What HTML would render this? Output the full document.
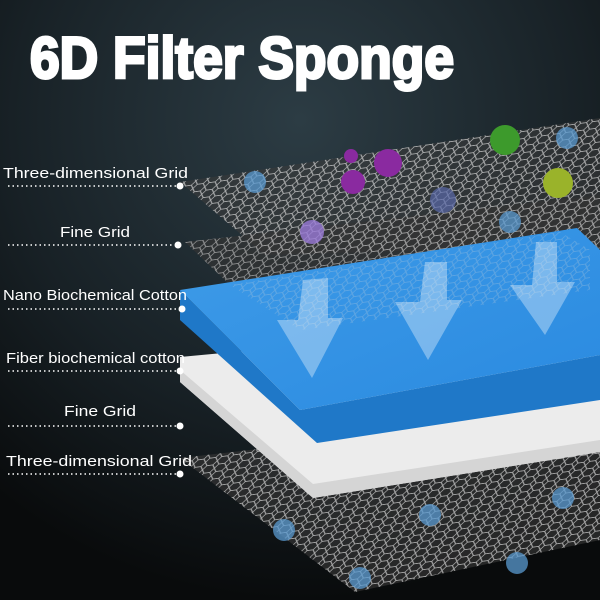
<!DOCTYPE html>
<html><head><meta charset="utf-8"><style>
body{margin:0;width:600px;height:600px;overflow:hidden;background:#111;}
svg{display:block}
</style></head><body>
<svg width="600" height="600" viewBox="0 0 600 600" xmlns="http://www.w3.org/2000/svg">
<defs>
<radialGradient id="bg" cx="0.5" cy="0.2" r="0.8">
<stop offset="0" stop-color="#2c3c44"/><stop offset="0.6" stop-color="#182126"/><stop offset="1" stop-color="#090b0c"/>
</radialGradient>
<pattern id="hex" width="12" height="7" patternUnits="userSpaceOnUse" patternTransform="rotate(-8) skewX(-30)">
<path d="M0 3.5 L3 0 L9 0 L12 3.5 L9 7 L3 7 Z" fill="none" stroke="#d8d8d8" stroke-width="0.9" opacity="0.75"/>
</pattern>
<linearGradient id="blue" x1="0" y1="0" x2="1" y2="1">
<stop offset="0" stop-color="#3e9be8"/><stop offset="1" stop-color="#2a8ae0"/>
</linearGradient>
</defs>
<rect width="600" height="600" fill="url(#bg)"/>
<polygon points="180,182 600,118 600,245 265,255" fill="#3a3a3a" opacity="0.6"/>
<polygon points="180,182 600,118 600,245 265,255" fill="url(#hex)"/>
<polygon points="185,242 600,195 600,300 230,285" fill="#333" opacity="0.7"/>
<polygon points="185,242 600,195 600,300 230,285" fill="url(#hex)" opacity="0.8"/>
<polygon points="180,458 600,410 600,540 355,592" fill="#333" opacity="0.7"/>
<polygon points="180,458 600,410 600,540 355,592" fill="url(#hex)"/>
<polygon points="180,357 600,318 600,452 313,498 180,382" fill="#ececec"/>
<polygon points="180,382 313,498 600,452 600,440 313,484 180,370" fill="#d5d5d5"/>
<polygon points="180,290 300,410 600,355 600,400 317,443 180,320" fill="#1f78c8"/>
<polygon points="180,290 577,228 600,250 600,355 300,410" fill="url(#blue)"/>
<polygon points="230,285 560,232 590,250 590,290 300,330" fill="url(#hex)" opacity="0.35"/>
<g fill="#ffffff" opacity="0.35">
<polygon points="303,280 328,278 328,318 343,318 312,378 277,320 298,320"/>
<polygon points="425,262 447,262 447,300 462,300 428,360 395,302 420,302"/>
<polygon points="536,242 557,242 557,282 575,282 545,335 510,285 532,285"/>
</g>
<circle cx="351" cy="156" r="7" fill="#8a2aa0"/>
<circle cx="388" cy="163" r="14" fill="#8a2aa0"/>
<circle cx="353" cy="182" r="12" fill="#8a2aa0"/>
<circle cx="505" cy="140" r="15" fill="#3d9a2c"/>
<circle cx="558" cy="183" r="15" fill="#9ab32a"/>
<circle cx="443" cy="200" r="13" fill="#5a6aaa" opacity="0.7"/>
<circle cx="312" cy="232" r="12" fill="#9a7ad8" opacity="0.8"/>
<g fill="#5a9ad0" opacity="0.75">
<circle cx="255" cy="182" r="11"/><circle cx="567" cy="138" r="11"/><circle cx="510" cy="222" r="11"/>
<circle cx="284" cy="530" r="11"/><circle cx="430" cy="515" r="11"/><circle cx="563" cy="498" r="11"/>
<circle cx="517" cy="563" r="11"/><circle cx="360" cy="578" r="11"/>
</g>
<text x="30" y="78" fill="#fff" font-family="Liberation Sans, sans-serif" font-weight="bold" font-size="58" textLength="424" lengthAdjust="spacingAndGlyphs" stroke="#fff" stroke-width="3">6D Filter Sponge</text>
<g fill="#fff" font-family="Liberation Sans, sans-serif" font-size="15">
<text x="3" y="178" textLength="185" lengthAdjust="spacingAndGlyphs">Three-dimensional Grid</text>
<text x="60" y="237" textLength="70" lengthAdjust="spacingAndGlyphs">Fine Grid</text>
<text x="3" y="300" textLength="184" lengthAdjust="spacingAndGlyphs">Nano Biochemical Cotton</text>
<text x="6" y="363" textLength="179" lengthAdjust="spacingAndGlyphs">Fiber biochemical cotton</text>
<text x="64" y="416" textLength="72" lengthAdjust="spacingAndGlyphs">Fine Grid</text>
<text x="6" y="466" textLength="186" lengthAdjust="spacingAndGlyphs">Three-dimensional Grid</text>
</g>
<g stroke="#fff" stroke-width="1.5" stroke-dasharray="1.5 3">
<line x1="8" y1="186" x2="176" y2="186"/>
<line x1="8" y1="245" x2="174" y2="245"/>
<line x1="8" y1="309" x2="178" y2="309"/>
<line x1="8" y1="371" x2="176" y2="371"/>
<line x1="8" y1="426" x2="176" y2="426"/>
<line x1="8" y1="474" x2="176" y2="474"/>
</g>
<g fill="#fff">
<circle cx="180" cy="186" r="3.5"/><circle cx="178" cy="245" r="3.5"/><circle cx="182" cy="309" r="3.5"/>
<circle cx="180" cy="371" r="3.5"/><circle cx="180" cy="426" r="3.5"/><circle cx="180" cy="474" r="3.5"/>
</g>
</svg>
</body></html>
